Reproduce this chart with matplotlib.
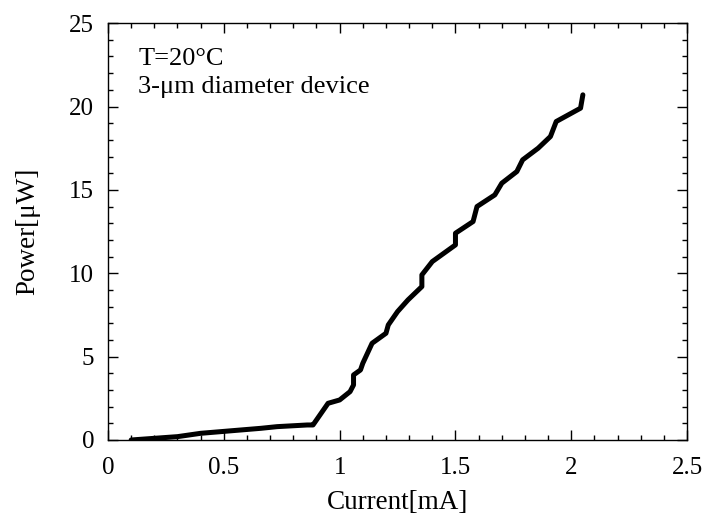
import matplotlib
matplotlib.use("Agg")
import matplotlib.pyplot as plt
from matplotlib.ticker import MultipleLocator

# Light output vs. injection current
current_mA = [0.10, 0.20, 0.30, 0.40, 0.53, 0.66, 0.73, 0.86, 0.885, 0.89,
              0.95, 1.00, 1.045, 1.06, 1.06, 1.09, 1.10, 1.12, 1.14, 1.20,
              1.21, 1.25, 1.295, 1.355, 1.355, 1.40, 1.50, 1.50, 1.576, 1.593,
              1.67, 1.70, 1.765, 1.79, 1.857, 1.91, 1.935, 2.04, 2.05]
power_uW = [0.0, 0.1, 0.2, 0.4, 0.55, 0.7, 0.8, 0.9, 0.9, 1.0,
            2.2, 2.4, 2.9, 3.3, 3.9, 4.2, 4.6, 5.2, 5.8, 6.4,
            6.9, 7.7, 8.4, 9.2, 9.9, 10.7, 11.7, 12.4, 13.1, 14.0,
            14.7, 15.4, 16.1, 16.8, 17.5, 18.2, 19.1, 19.9, 20.7]

x_ticks = [0, 0.5, 1, 1.5, 2, 2.5]
x_tick_labels = ["0", "0.5", "1", "1.5", "2", "2.5"]
y_ticks = [0, 5, 10, 15, 20, 25]

plt.rcParams["font.family"] = ["Liberation Serif", "DejaVu Serif"]

fig = plt.figure(figsize=(7.04, 5.14), dpi=100)
ax = fig.add_axes([0.1534, 0.144, 0.8226, 0.811])

ax.plot(current_mA, power_uW, color="black", lw=3.6,
        solid_capstyle="round", solid_joinstyle="round")

ax.set_xlim(0, 2.5)
ax.set_ylim(0, 25)
ax.set_xticks(x_ticks)
ax.set_xticklabels(x_tick_labels)
ax.set_yticks(y_ticks)
ax.xaxis.set_minor_locator(MultipleLocator(0.1))
ax.yaxis.set_minor_locator(MultipleLocator(1))
ax.tick_params(which="both", direction="in", top=True, right=True,
               width=1, labelsize=18)
ax.tick_params(axis="x", which="both", pad=12)
ax.tick_params(axis="y", which="both", pad=10)
ax.tick_params(which="major", length=7)
ax.tick_params(which="minor", length=3.6)
for s in ax.spines.values():
    s.set_linewidth(1)

ax.set_xlabel("Current[mA]", fontsize=19.5, labelpad=8)
ax.set_ylabel("Power[μW]", fontsize=19.5, labelpad=21)

ax.text(0.052, 0.94, "T=20°C\n3-μm diameter device", transform=ax.transAxes,
        fontsize=19, va="top", ha="left", linespacing=1.32)

fig.savefig("out.png", dpi=100)
